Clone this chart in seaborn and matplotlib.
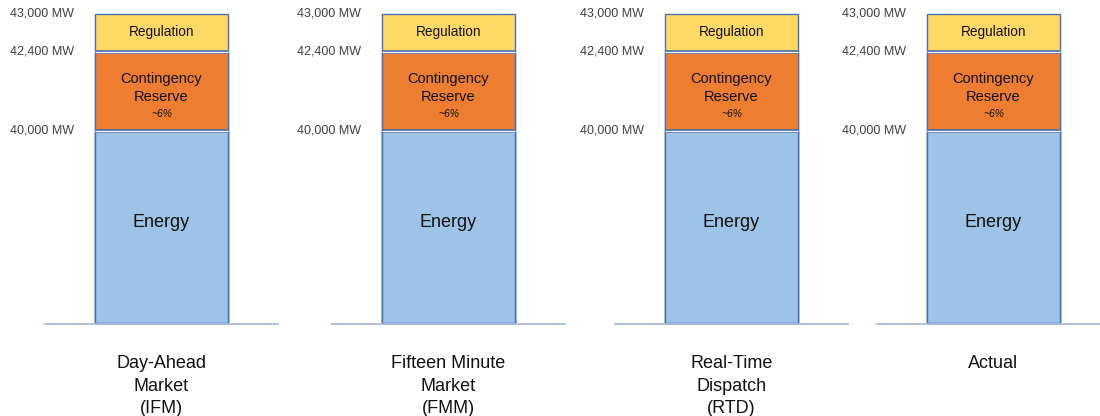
import numpy as np
import pandas as pd
import matplotlib
matplotlib.use("Agg")
import matplotlib.pyplot as plt
import matplotlib.patheffects as pe
import seaborn as sns

# ---------------- data ----------------
categories = ["Day-Ahead\nMarket\n(IFM)", "Fifteen Minute\nMarket\n(FMM)",
              "Real-Time\nDispatch\n(RTD)", "Actual"]
energy = [40000, 40000, 40000, 40000]
contingency = [2400, 2400, 2400, 2400]
regulation = [600, 600, 600, 600]
segment_names = ["Energy", "Contingency\nReserve", "Regulation"]
level_labels = ["40,000 MW", "42,400 MW", "43,000 MW"]
contingency_note = "~6%"

# ---------------- style ----------------
sns.set_style("white")
plt.rcParams["font.family"] = ["Liberation Sans", "DejaVu Sans"]

C_ENERGY = "#9DC3E6"
C_CONT = "#ED7D31"
C_REG = "#FFD966"
C_EDGE = "#4A6FAE"
C_BASE = "#A7BAE0"
C_YLAB = "#404040"
C_TEXT = "#111111"

df = pd.DataFrame({
    "market": categories,
    "energy": energy,
    "contingency": contingency,
    "regulation": regulation,
})
df["top_energy"] = df["energy"]
df["top_cont"] = df["energy"] + df["contingency"]
df["top_reg"] = df["top_cont"] + df["regulation"]

# schematic (non-proportional) vertical scale: pixel height per segment
seg_px = [191.5, 79.0, 37.5]

W, H = 1100, 416
fig = plt.figure(figsize=(W / 100, H / 100), dpi=100)

ax_left_px = [45, 332, 615, 877]
ax_w_px = 233
ax_bottom_px = 322.5
ax_top_px = 14
bar_width = 0.575

for i, ax_l in enumerate(ax_left_px):
    ax = fig.add_axes([ax_l / W, (H - ax_bottom_px) / H, ax_w_px / W,
                       (ax_bottom_px - ax_top_px) / H])
    row = df.iloc[[i]]
    lv = [float(row["top_energy"].iloc[0]), float(row["top_cont"].iloc[0]),
          float(row["top_reg"].iloc[0])]

    xp = [0.0] + lv
    fp = list(np.concatenate([[0.0], np.cumsum(seg_px)]))
    s0 = seg_px[0] / (xp[1] - xp[0])
    s3 = seg_px[2] / (xp[3] - xp[2])
    xp_e = [-1e6] + xp + [xp[-1] + 1e6]
    fp_e = [-1e6 * s0] + fp + [fp[-1] + 1e6 * s3]

    def fwd(v, xp_e=xp_e, fp_e=fp_e):
        return np.interp(v, xp_e, fp_e)

    def inv(v, xp_e=xp_e, fp_e=fp_e):
        return np.interp(v, fp_e, xp_e)

    for col, colr in [("top_reg", C_REG), ("top_cont", C_CONT), ("top_energy", C_ENERGY)]:
        sns.barplot(data=row, x="market", y=col, color=colr, saturation=1,
                    width=bar_width, edgecolor=C_EDGE, linewidth=1.0,
                    errorbar=None, ax=ax)

    ax.set_yscale("function", functions=(fwd, inv))
    ax.set_ylim(0, lv[-1])
    ax.set_xlim(-0.5, 0.5)
    ax.set_xlabel("")
    ax.set_ylabel("")
    ax.set_yticks([])
    for p in ax.patches:
        p.set_clip_on(False)

    bar = ax.patches[0]
    left = bar.get_x()
    right = left + bar.get_width()
    xc = left + bar.get_width() / 2

    # white gaps between stacked boxes
    ax.hlines(lv[:2], left, right, colors="white", linewidth=0.9,
              path_effects=[pe.Stroke(linewidth=2.6, foreground=C_EDGE), pe.Normal()],
              zorder=3)

    # level labels
    for val, lab in zip(lv, level_labels):
        ax.annotate(lab, xy=(left, val), xytext=(-14.5, 0), textcoords="offset points",
                    ha="right", va="center", fontsize=9, color=C_YLAB,
                    annotation_clip=False)

    # in-bar texts
    bounds = [0.0] + lv
    mids = [(bounds[k] + bounds[k + 1]) / 2 for k in range(3)]
    ax.annotate(segment_names[0], xy=(xc, mids[0]), xytext=(0, 3), textcoords="offset points",
                ha="center", va="center", fontsize=13, color=C_TEXT, zorder=4)
    ax.annotate(segment_names[1], xy=(xc, mids[1]), xytext=(0, 2.2), textcoords="offset points",
                ha="center", va="center", fontsize=10.5, color=C_TEXT, linespacing=1.42, zorder=4)
    ax.annotate(contingency_note, xy=(xc, mids[1]), xytext=(0, -16.5), textcoords="offset points",
                ha="center", va="center", fontsize=7.5, style="italic", color=C_TEXT, zorder=4)
    ax.annotate(segment_names[2], xy=(xc, mids[2]), xytext=(0, 0.5), textcoords="offset points",
                ha="center", va="center", fontsize=9.8, color=C_TEXT, zorder=4)

    # spines / baseline
    for s in ["top", "left", "right"]:
        ax.spines[s].set_visible(False)
    ax.spines["bottom"].set_color(C_BASE)
    ax.spines["bottom"].set_linewidth(1.3)
    ax.spines["bottom"].set_position(("outward", 1.2))
    ax.tick_params(axis="x", length=0, pad=22, labelsize=13, labelcolor=C_TEXT)
    for lbl in ax.get_xticklabels():
        lbl.set_linespacing(1.45)

fig.savefig("out.png", dpi=100)
